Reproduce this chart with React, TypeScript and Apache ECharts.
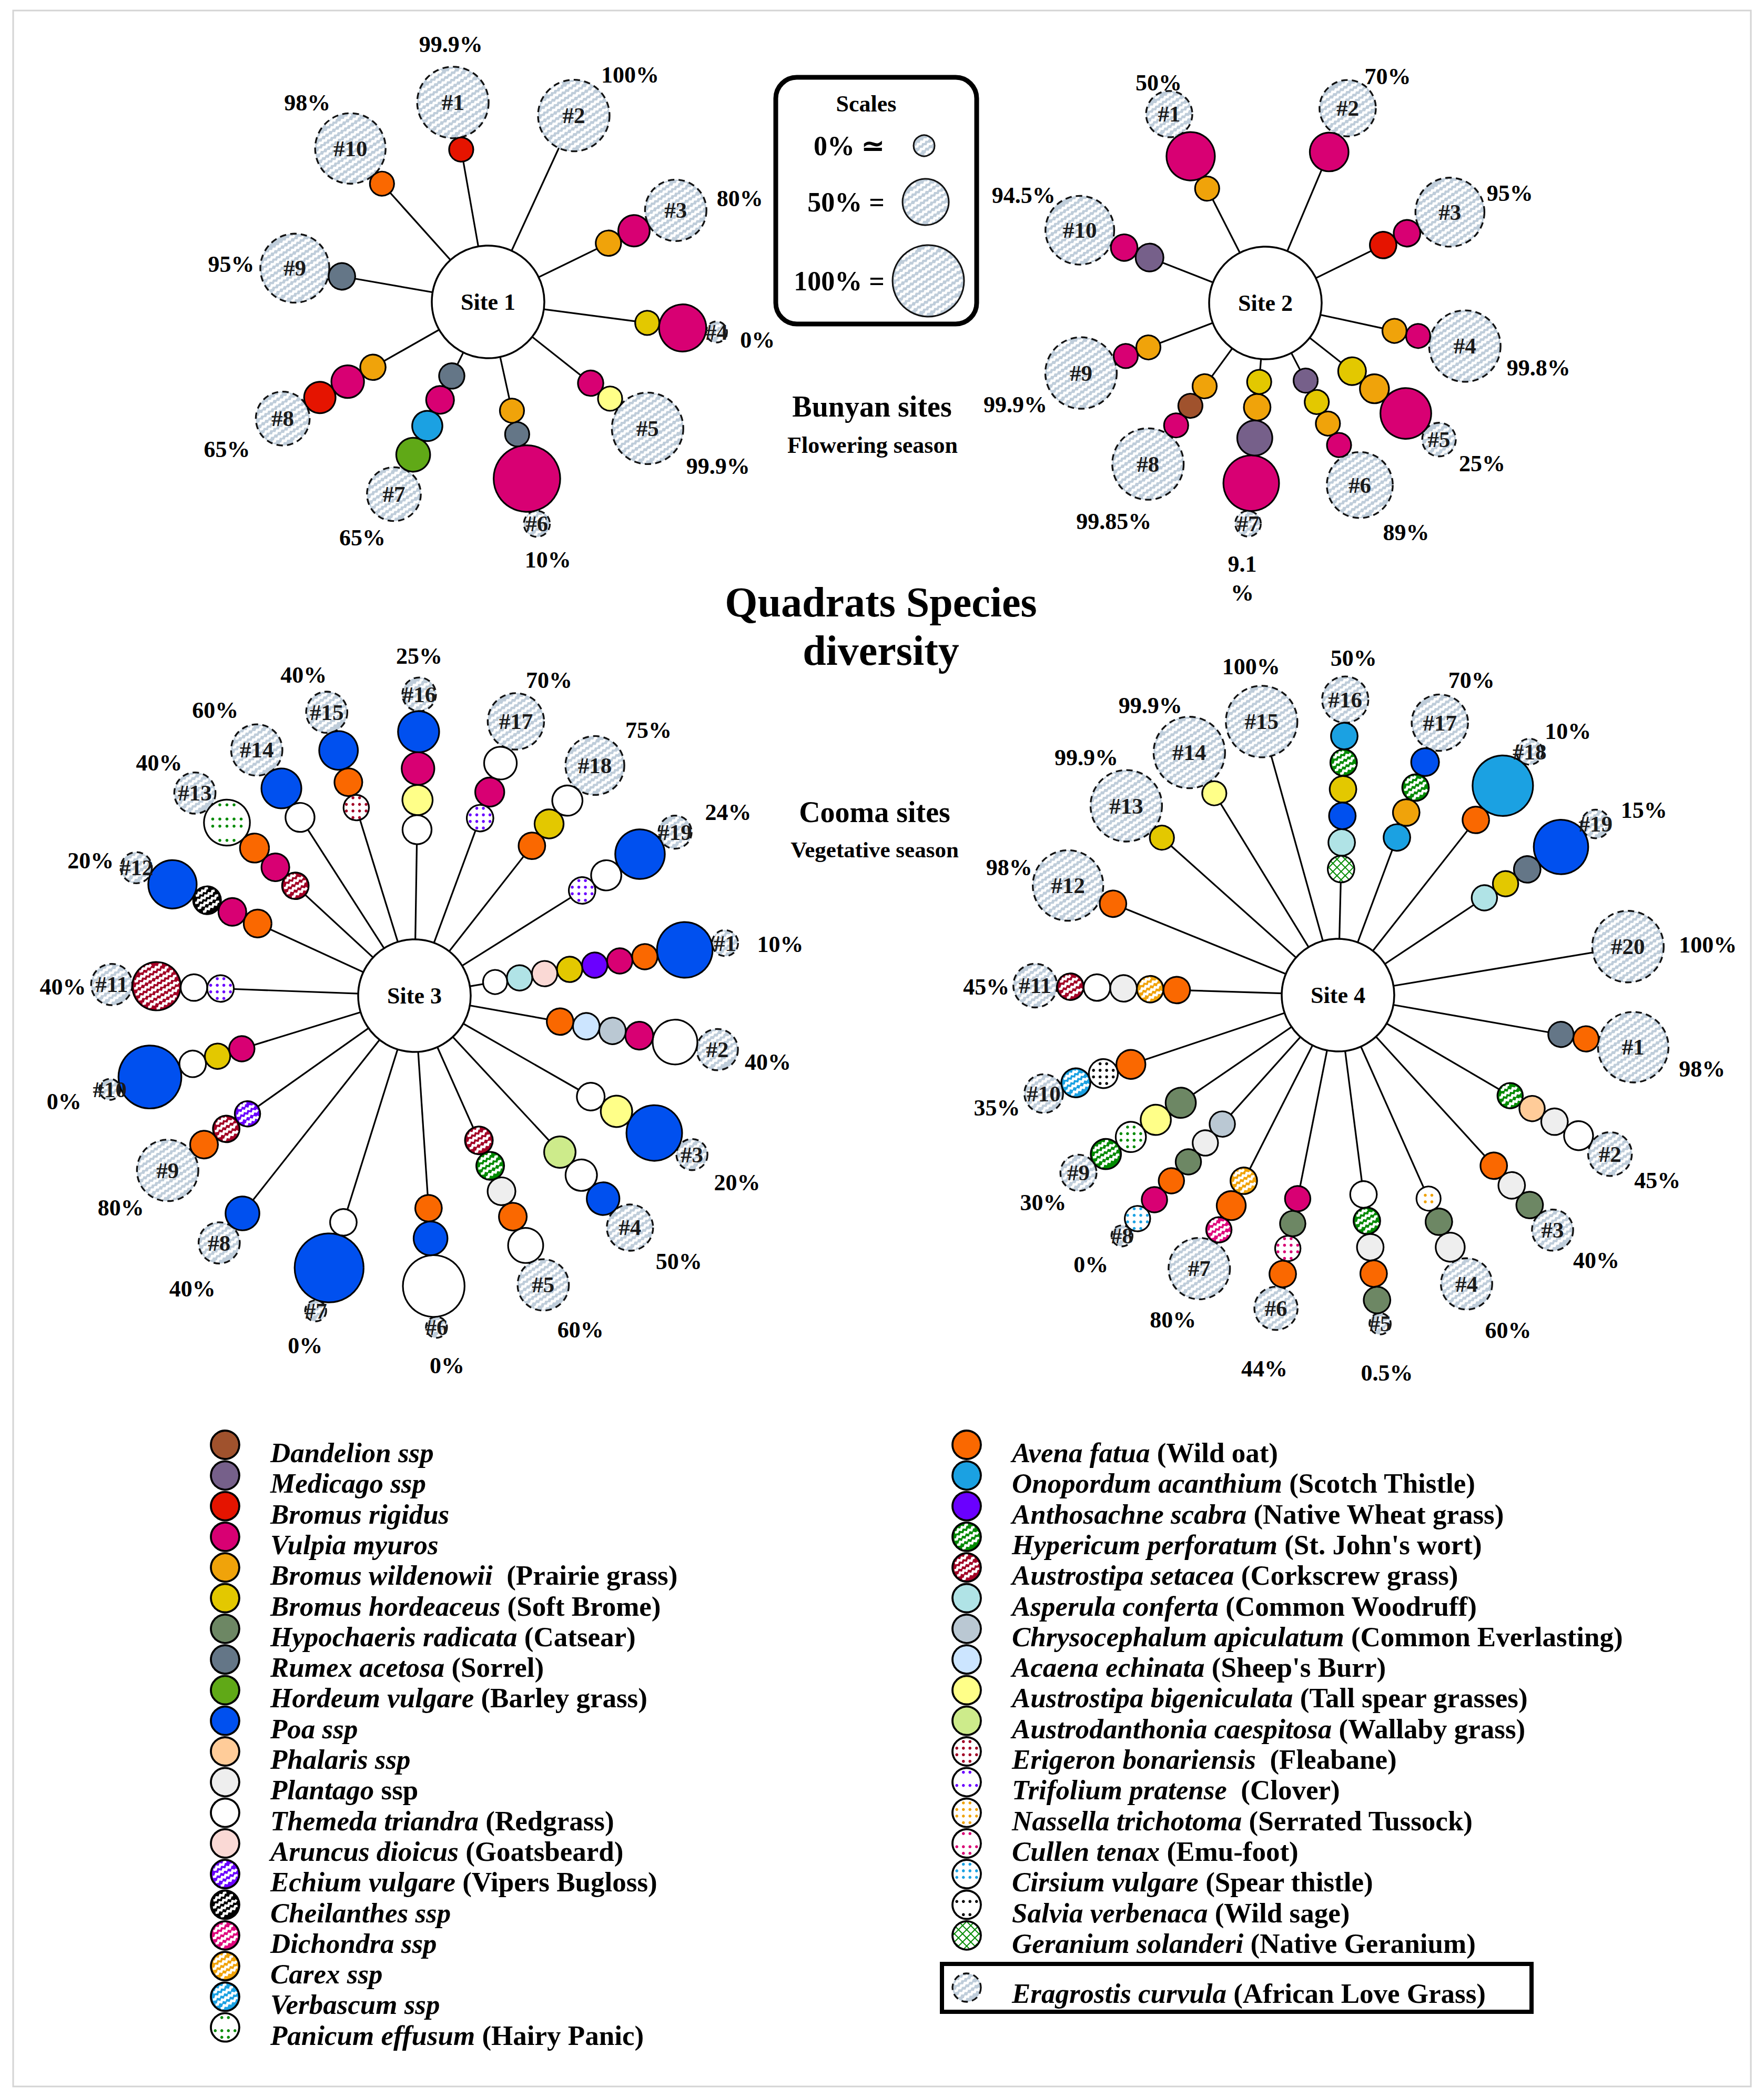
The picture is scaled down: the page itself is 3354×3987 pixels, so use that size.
import React, { useEffect, useRef } from 'react';
import * as echarts from 'echarts';

const W = 3354;
const H = 3987;
const FONT = "'Liberation Serif', 'Times New Roman', Times, serif";

/* ====================== DATA ====================== */
// Species in legend order
const speciesCode = ['DS', 'MS', 'BR', 'VM', 'BW', 'BH', 'HR', 'RA', 'HV', 'POA', 'PH', 'PL', 'TT', 'AD', 'EV', 'CH', 'DI', 'CX', 'VB', 'PE',
  'AF', 'OA', 'AS', 'HP', 'ASE', 'AC', 'CA', 'AE', 'AB', 'ADC', 'EB', 'TP', 'NT', 'CT', 'CV', 'SV', 'GS'];
const speciesLatin = ['Dandelion ssp', 'Medicago ssp', 'Bromus rigidus', 'Vulpia myuros', 'Bromus wildenowii', 'Bromus hordeaceus',
  'Hypochaeris radicata', 'Rumex acetosa', 'Hordeum vulgare', 'Poa ssp', 'Phalaris ssp', 'Plantago', 'Themeda triandra',
  'Aruncus dioicus', 'Echium vulgare', 'Cheilanthes ssp', 'Dichondra ssp', 'Carex ssp', 'Verbascum ssp', 'Panicum effusum',
  'Avena fatua', 'Onopordum acanthium', 'Anthosachne scabra', 'Hypericum perforatum', 'Austrostipa setacea', 'Asperula conferta',
  'Chrysocephalum apiculatum', 'Acaena echinata', 'Austrostipa bigeniculata', 'Austrodanthonia caespitosa', 'Erigeron bonariensis',
  'Trifolium pratense', 'Nassella trichotoma', 'Cullen tenax', 'Cirsium vulgare', 'Salvia verbenaca', 'Geranium solanderi'];
const speciesCommon = ['', '', '', '', ' (Prairie grass)', '(Soft Brome)', '(Catsear)', '(Sorrel)', '(Barley grass)', '', '', 'ssp',
  '(Redgrass)', '(Goatsbeard)', '(Vipers Bugloss)', '', '', '', '', '(Hairy Panic)',
  '(Wild oat)', '(Scotch Thistle)', '(Native Wheat grass)', "(St. John's wort)", '(Corkscrew grass)', '(Common Woodruff)',
  '(Common Everlasting)', "(Sheep's Burr)", '(Tall spear grasses)', '(Wallaby grass)', ' (Fleabane)', ' (Clover)',
  '(Serrated Tussock)', '(Emu-foot)', '(Spear thistle)', '(Wild sage)', '(Native Geranium)'];
const eragrostisLatin = 'Eragrostis curvula';
const eragrostisCommon = '(African Love Grass)';

const siteNames = ['Site 1', 'Site 2', 'Site 3', 'Site 4'];

// Eragrostis curvula cover (%) per quadrat
const site1Cover = [99.9, 100, 80, 0, 99.9, 10, 65, 65, 95, 98];
const site2Cover = [50, 70, 95, 99.8, 25, 89, 9.1, 99.85, 99.9, 94.5];
const site3Cover = [10, 40, 20, 50, 60, 0, 0, 40, 80, 0, 40, 20, 40, 60, 40, 25, 70, 75, 24];
const site4Cover = [98, 45, 40, 60, 0.5, 44, 80, 0, 30, 35, 45, 98, 99.9, 99.9, 100, 50, 70, 10, 15, 100];

// other species per quadrat (inner -> outer), [species, relative abundance]
type Occ = [string, number];
const site1Species: Occ[][] = [
  [['BR', 1]],
  [],
  [['BW', 1.05], ['VM', 1.3]],
  [['BH', 1], ['VM', 1.95]],
  [['VM', 1.05], ['AB', 1]],
  [['BW', 1], ['RA', 1], ['VM', 2.75]],
  [['RA', 1.05], ['VM', 1.15], ['OA', 1.25], ['HV', 1.4]],
  [['BW', 1.05], ['VM', 1.35], ['BR', 1.3]],
  [['RA', 1.1]],
  [['AF', 1]],
];
const site2Species: Occ[][] = [
  [['BW', 1], ['VM', 2]],
  [['VM', 1.6]],
  [['BR', 1.1], ['VM', 1.1]],
  [['BW', 1], ['VM', 1]],
  [['BH', 1.15], ['BW', 1.2], ['VM', 2.1]],
  [['MS', 1], ['BH', 1], ['BW', 1], ['VM', 1]],
  [['BH', 1], ['BW', 1.1], ['MS', 1.45], ['VM', 2.3]],
  [['BW', 1], ['DS', 1], ['VM', 1]],
  [['BW', 1], ['VM', 1]],
  [['MS', 1.15], ['VM', 1.1]],
];
const site3Species: Occ[][] = [
  [['TT', 1], ['AC', 1.05], ['AD', 1.05], ['BH', 1.05], ['AS', 1.05], ['VM', 1.05], ['AF', 1.05], ['POA', 2.3]],
  [['AF', 1.1], ['AE', 1.1], ['CA', 1.1], ['VM', 1.15], ['TT', 1.85]],
  [['TT', 1.15], ['AB', 1.3], ['POA', 2.3]],
  [['ADC', 1.3], ['TT', 1.3], ['POA', 1.35]],
  [['ASE', 1.15], ['HP', 1.15], ['PL', 1.15], ['AF', 1.15], ['TT', 1.45]],
  [['AF', 1.1], ['POA', 1.4], ['TT', 2.55]],
  [['TT', 1.1], ['POA', 2.85]],
  [['POA', 1.4]],
  [['EV', 1.05], ['ASE', 1.1], ['AF', 1.15]],
  [['VM', 1.05], ['BH', 1.05], ['TT', 1.1], ['POA', 2.6]],
  [['TP', 1.1], ['TT', 1.1], ['ASE', 2]],
  [['AF', 1.15], ['VM', 1.15], ['CH', 1.15], ['POA', 2]],
  [['ASE', 1.1], ['VM', 1.15], ['AF', 1.2], ['PE', 1.9]],
  [['TT', 1.2], ['POA', 1.65]],
  [['EB', 1.05], ['AF', 1.15], ['POA', 1.6]],
  [['TT', 1.2], ['AB', 1.25], ['VM', 1.35], ['POA', 1.7]],
  [['TP', 1.1], ['VM', 1.2], ['TT', 1.35]],
  [['AF', 1.1], ['BH', 1.2], ['TT', 1.25]],
  [['TP', 1.1], ['TT', 1.25], ['POA', 2.05]],
];
const site4Species: Occ[][] = [
  [['RA', 1.05], ['AF', 1.05]],
  [['HP', 1.05], ['PH', 1.05], ['PL', 1.1], ['PE', 1.2]],
  [['AF', 1.1], ['PL', 1.1], ['HR', 1.1]],
  [['NT', 1], ['HR', 1.1], ['PL', 1.2]],
  [['TT', 1.1], ['HP', 1.1], ['PL', 1.1], ['AF', 1.1], ['HR', 1.1]],
  [['VM', 1.05], ['HR', 1.05], ['CT', 1.05], ['AF', 1.1]],
  [['CX', 1.1], ['AF', 1.2], ['DI', 1.05]],
  [['CA', 1.05], ['PL', 1.05], ['HR', 1.05], ['AF', 1.05], ['VM', 1.05], ['CV', 1.05]],
  [['HR', 1.25], ['AB', 1.25], ['PE', 1.25], ['HP', 1.25]],
  [['AF', 1.2], ['SV', 1.2], ['VB', 1.2]],
  [['AF', 1.1], ['CX', 1.1], ['PL', 1.1], ['TT', 1.1], ['ASE', 1.1]],
  [['AF', 1.1]],
  [['BH', 1]],
  [['AB', 1]],
  [],
  [['GS', 1.1], ['AC', 1.1], ['POA', 1.1], ['BH', 1.1], ['HP', 1.1], ['OA', 1.1]],
  [['OA', 1.1], ['BW', 1.1], ['HP', 1.1], ['POA', 1.15]],
  [['AF', 1.1], ['OA', 2.5]],
  [['AC', 1.05], ['BH', 1.05], ['RA', 1.1], ['POA', 2.25]],
  [],
];

const scaleCover = [0, 50, 100];
const scaleLabels = ['0% \u2243', '50% =', '100% ='];

/* ====================== STYLES ====================== */
const speciesColor: Record<string, string> = {
  DS: '#A0522D', MS: '#76608A', BR: '#E51400', VM: '#D80073', BW: '#F0A30A', BH: '#E3C800', HR: '#6D8764', RA: '#647687',
  HV: '#60A917', POA: '#0050EF', PH: '#FFCC99', PL: '#EEEEEE', TT: '#FFFFFF', AD: '#FAD9D5', EV: '#6A00FF', CH: '#000000',
  DI: '#E0087D', CX: '#F0A30A', VB: '#1BA1E2', PE: '#008A00', AF: '#FA6800', OA: '#1BA1E2', AS: '#6A00FF', HP: '#008A00',
  ASE: '#A20025', AC: '#B0E3E6', CA: '#BAC8D3', AE: '#CCE5FF', AB: '#FFFF88', ADC: '#CDEB8B', EB: '#A20025', TP: '#6A00FF',
  NT: '#F0A30A', CT: '#D80073', CV: '#1BA1E2', SV: '#000000', GS: '#008A00',
};
const speciesFill: Record<string, string> = {
  EV: 'hatch', CH: 'hatch', DI: 'hatch', CX: 'hatch', VB: 'hatch', HP: 'hatch', ASE: 'hatch',
  PE: 'dots', EB: 'dots', TP: 'dots', NT: 'dots', CT: 'dots', CV: 'dots', SV: 'dots',
  GS: 'cross',
};
const ERA_BASE = '#BFCDDA';

/* ====================== LAYOUT ====================== */
const siteCenter = [[928, 574], [2406, 576], [788, 1893], [2544, 1892]];
const SITE_R = 107;
const BASE_R = 23;
const quadRadius = (p: number) => 20 + 0.48 * p;
// [spoke angle deg, distance of quadrat, label dx, label dy, wrap]
const site1Layout = [
  [-100.0, 385, -4, -110], [-65.3, 390, 107, -77], [-26.0, 397, 122, -22], [7.5, 438, 78, 15], [38.4, 387, 134, 72],
  [77.6, 432, 21, 69], [116.1, 407, -60, 83], [150.4, 449, -106, 59], [189.9, 373, -121, -7], [228.1, 392, -82, -87],
];
const site2Layout = [
  [243.0, 403, -20, -59], [292.9, 402, 76, -60], [-26.2, 391, 114, -36], [12.2, 388, 140, 42], [38.2, 420, 82, 46],
  [62.6, 390, 88, 90], [94.5, 421, -11, 104, 1], [126.1, 379, -65, 109], [159.2, 375, -125, 60], [201.4, 379, -107, -66],
];
const site3Layout = [
  [-9.6, 599, 105, 2], [10.1, 585, 96, 24], [29.8, 608, 86, 53], [47.1, 602, 93, 65], [66.0, 602, 71, 86],
  [86.2, 632, 20, 73], [107.4, 628, -20, 66], [128.3, 599, -51, 87], [144.7, 575, -89, 71], [162.9, 606, -87, 23],
  [182.1, 576, -93, 5], [204.7, 582, -87, -13], [222.7, 568, -68, -57], [237.3, 555, -79, -75], [252.8, 564, -44, -71],
  [270.9, 573, 0, -73], [290.3, 556, 63, -78], [308.1, 556, 102, -67], [327.9, 585, 101, -38],
];
const site4Layout = [
  [10.0, 570, 131, 42], [30.3, 599, 90, 50], [47.6, 605, 83, 58], [66.0, 601, 79, 88], [82.7, 630, 13, 94],
  [101.2, 607, -22, 115], [116.9, 583, -50, 98], [131.9, 615, -59, 55], [145.6, 598, -67, 57], [161.5, 590, -89, 27],
  [181.8, 576, -93, 3], [202.1, 554, -112, -34], [221.8, 540, -76, -92], [238.5, 541, -74, -89], [254.4, 540, -20, -104],
  [271.4, 562, 16, -79], [290.5, 553, 60, -81], [308.2, 589, 73, -39], [326.4, 588, 92, -26], [350.5, 559, 152, -3],
];

/* ====================== DRAW HELPERS ====================== */
function stripes(cx: number, cy: number, r: number, angDeg: number, spacing: number, color: string, width: number, amp: number) {
  const out: any[] = [];
  const t = (angDeg * Math.PI) / 180;
  const ux = Math.cos(t), uy = Math.sin(t);
  const nx = -uy, ny = ux;
  const n = Math.ceil(r / spacing) + 1;
  const rr = r - 1.5 - amp;
  for (let k = -n; k <= n; k++) {
    const d = k * spacing + spacing * 0.3;
    const h2 = rr * rr - d * d;
    if (h2 <= 9) continue;
    const h = Math.sqrt(h2);
    const pts: number[][] = [];
    if (amp > 0) {
      const step = 4;
      const m = Math.max(2, Math.round((2 * h) / step));
      for (let i = 0; i <= m; i++) {
        const s = -h + (2 * h * i) / m;
        const o = i === 0 || i === m ? 0 : (i % 2 ? amp : -amp);
        pts.push([cx + s * ux + (d + o) * nx, cy + s * uy + (d + o) * ny]);
      }
    } else {
      pts.push([cx - h * ux + d * nx, cy - h * uy + d * ny], [cx + h * ux + d * nx, cy + h * uy + d * ny]);
    }
    out.push({ type: 'polyline', shape: { points: pts }, style: { stroke: color, lineWidth: width, fill: 'none' }, silent: true });
  }
  return out;
}

function dots(cx: number, cy: number, r: number, spacing: number, dotR: number, color: string) {
  const out: any[] = [];
  const n = Math.ceil(r / spacing) + 1;
  const ox = r > 32 ? 0 : 0.5;
  for (let i = -n; i <= n; i++) {
    for (let j = -n; j <= n; j++) {
      const x = (i + ox) * spacing, y = (j + 0.5) * spacing;
      if (Math.hypot(x, y) + dotR <= r - 1.2) {
        out.push({ type: 'circle', shape: { cx: cx + x, cy: cy + y, r: dotR }, style: { fill: color }, silent: true });
      }
    }
  }
  return out;
}

function drawMark(x: number, y: number, r: number, kind: string, code?: string) {
  const els: any[] = [];
  if (kind === 'site') {
    els.push({ type: 'circle', shape: { cx: x, cy: y, r }, style: { fill: '#ffffff', stroke: '#000', lineWidth: 3.5 } });
    return els;
  }
  if (kind === 'quad' || kind === 'scale' || kind === 'legendQuad') {
    els.push({ type: 'circle', shape: { cx: x, cy: y, r }, style: { fill: ERA_BASE } });
    els.push(...stripes(x, y, r, -35, 11, '#ffffff', 4.5, 1.5));
    els.push({
      type: 'circle', shape: { cx: x, cy: y, r },
      style: { fill: 'none', stroke: '#111', lineWidth: kind === 'scale' ? 3 : 3.3, lineDash: kind === 'scale' ? null : [12, 8] },
    });
    return els;
  }
  const col = speciesColor[code as string];
  const pat = speciesFill[code as string] || 'solid';
  const base = pat === 'dots' || pat === 'cross' ? '#ffffff' : col;
  els.push({ type: 'circle', shape: { cx: x, cy: y, r }, style: { fill: base } });
  if (pat === 'hatch') els.push(...stripes(x, y, r, -32, 11, '#ffffff', 4.5, 1.8));
  if (pat === 'dots') els.push(...dots(x, y, r, r > 32 ? 13.5 : 12.5, 2.8, col));
  if (pat === 'cross') {
    els.push(...stripes(x, y, r, 45, 11, col, 2, 0));
    els.push(...stripes(x, y, r, -45, 11, col, 2, 0));
  }
  els.push({ type: 'circle', shape: { cx: x, cy: y, r }, style: { fill: 'none', stroke: '#000', lineWidth: kind === 'legendSp' ? 3.8 : 3.2 } });
  return els;
}

/* ====================== BUILD ====================== */
function buildOption() {
  const spokeData: number[][] = [];
  const circleData: number[][] = [];
  const circleMeta: { kind: string; code?: string }[] = [];
  const textData: number[][] = [];
  const textMeta: any[] = [];

  const addCircle = (x: number, y: number, r: number, kind: string, code?: string) => {
    circleData.push([x, y, r]);
    circleMeta.push({ kind, code });
  };
  const addText = (x: number, y: number, text: string, size: number, opts: any = {}) => {
    textData.push([x, y]);
    textMeta.push({ text, size, ...opts });
  };

  const sites = [
    { cover: site1Cover, species: site1Species, layout: site1Layout },
    { cover: site2Cover, species: site2Species, layout: site2Layout },
    { cover: site3Cover, species: site3Species, layout: site3Layout },
    { cover: site4Cover, species: site4Species, layout: site4Layout },
  ];

  const quads: any[] = [];
  const sps: any[] = [];
  sites.forEach((s, si) => {
    const [cx, cy] = siteCenter[si];
    addCircle(cx, cy, SITE_R, 'site');
    addText(cx, cy, siteNames[si], 44, { align: 'center' });
    s.cover.forEach((p, qi) => {
      const lay = s.layout[qi];
      const [ang, D, ldx, ldy] = lay;
      const wrap = lay[4] === 1;
      const t = (ang * Math.PI) / 180;
      const ux = Math.cos(t), uy = Math.sin(t);
      const rq = quadRadius(p);
      const qx = cx + D * ux, qy = cy + D * uy;
      const list = s.species[qi];
      let pos = D - rq;
      let inner = D;
      for (let k = list.length - 1; k >= 0; k--) {
        const [code, a] = list[k];
        const r = BASE_R * a;
        const c = pos - r;
        sps.push([cx + c * ux, cy + c * uy, r, code]);
        inner = c;
        pos = c - r;
      }
      spokeData.push([cx, cy, cx + inner * ux, cy + inner * uy]);
      quads.push([qx, qy, rq]);
      addText(qx, qy, '#' + (qi + 1), 43, { align: 'center', color: '#1a1a1a' });
      const lbl = wrap ? `${p}\n%` : `${p}%`;
      addText(qx + ldx, qy + ldy, lbl, 44, { align: 'center', lineHeight: 55 });
    });
  });
  quads.forEach((q) => addCircle(q[0], q[1], q[2], 'quad'));
  sps.forEach((q) => addCircle(q[0], q[1], q[2], 'sp', q[3]));

  // scales
  const scaleY = [277, 384, 534];
  const scaleX = [1757, 1760, 1765];
  scaleCover.forEach((p, i) => {
    addCircle(scaleX[i], scaleY[i], quadRadius(p), 'scale');
    addText(1682, scaleY[i], scaleLabels[i], 52, { align: 'right' });
  });

  // legend
  const rowStep = 58.3;
  const rich = {
    i: { fontFamily: FONT, fontSize: 53, fontWeight: 'bold', fontStyle: 'italic', fill: '#000' },
    b: { fontFamily: FONT, fontSize: 53, fontWeight: 'bold', fill: '#000' },
  };
  speciesCode.forEach((code, i) => {
    const left = i < 20;
    const row = left ? i : i - 20;
    const cx = left ? 428 : 1838;
    const cy = 2747 + row * rowStep;
    addCircle(cx, cy, 27, 'legendSp', code);
    const common = speciesCommon[i];
    const txt = `{i|${speciesLatin[i]}}` + (common ? `{b| ${common}}` : '');
    addText(cx + 86, cy + 15, txt, 53, { align: 'left', rich });
  });
  addCircle(1838, 3779, 27, 'legendQuad');
  addText(1924, 3790, `{i|${eragrostisLatin}}{b| ${eragrostisCommon}}`, 53, { align: 'left', rich });

  const txt = (text: string, x: number, y: number, size: number, align = 'center') => ({
    type: 'text', silent: true,
    style: {
      text, x, y, fill: '#000', fontFamily: FONT, fontSize: size, fontWeight: 'bold',
      align, verticalAlign: 'middle', textAlign: align, textVerticalAlign: 'middle',
    },
  });

  return {
    animation: false,
    backgroundColor: '#ffffff',
    grid: { left: 0, right: 0, top: 0, bottom: 0, containLabel: false },
    xAxis: { type: 'value', min: 0, max: W, show: false },
    yAxis: { type: 'value', min: 0, max: H, inverse: true, show: false },
    graphic: {
      elements: [
        { type: 'rect', silent: true, shape: { x: 25, y: 20, width: 3304, height: 3947 }, style: { fill: 'none', stroke: '#d4d4d4', lineWidth: 3 } },
        { type: 'rect', silent: true, shape: { x: 1475, y: 147, width: 382, height: 469, r: 40 }, style: { fill: 'none', stroke: '#000', lineWidth: 9 } },
        txt('Scales', 1647, 197, 44),
        txt('Bunyan sites', 1658, 773, 56),
        txt('Flowering season', 1659, 846, 44),
        txt('Quadrats Species', 1675, 1145, 80),
        txt('diversity', 1675, 1237, 80),
        txt('Cooma sites', 1663, 1544, 56),
        txt('Vegetative season', 1663, 1615, 43),
        { type: 'rect', silent: true, shape: { x: 1791, y: 3734, width: 1121, height: 91 }, style: { fill: 'none', stroke: '#000', lineWidth: 8 } },
      ],
    },
    series: [
      {
        type: 'custom', name: 'spokes', coordinateSystem: 'cartesian2d', silent: true, z: 1, clip: false,
        data: spokeData, encode: { x: [0, 2], y: [1, 3] },
        renderItem: (_p: any, api: any) => {
          const a = api.coord([api.value(0), api.value(1)]);
          const b = api.coord([api.value(2), api.value(3)]);
          return { type: 'line', shape: { x1: a[0], y1: a[1], x2: b[0], y2: b[1] }, style: { stroke: '#000', lineWidth: 3.2 } };
        },
      },
      {
        type: 'custom', name: 'circles', coordinateSystem: 'cartesian2d', silent: true, z: 2, clip: false,
        data: circleData, encode: { x: 0, y: 1 },
        renderItem: (params: any, api: any) => {
          const m = circleMeta[params.dataIndex];
          const c = api.coord([api.value(0), api.value(1)]);
          const r = api.size([api.value(2), 0])[0];
          return { type: 'group', children: drawMark(c[0], c[1], r, m.kind, m.code) };
        },
      },
      {
        type: 'custom', name: 'texts', coordinateSystem: 'cartesian2d', silent: true, z: 3, clip: false,
        data: textData, encode: { x: 0, y: 1 },
        renderItem: (params: any, api: any) => {
          const t = textMeta[params.dataIndex];
          const c = api.coord([api.value(0), api.value(1)]);
          const style: any = {
            text: t.text, x: c[0], y: c[1], fill: t.color || '#000', fontFamily: FONT, fontSize: t.size,
            fontWeight: 'bold', align: t.align, verticalAlign: 'middle', textAlign: t.align, textVerticalAlign: 'middle',
          };
          if (t.lineHeight) style.lineHeight = t.lineHeight;
          if (t.rich) style.rich = t.rich;
          return { type: 'text', style };
        },
      },
    ],
  };
}

export default function App() {
  const ref = useRef<HTMLDivElement>(null);
  useEffect(() => {
    document.body.style.margin = '0';
    const el = ref.current as HTMLDivElement;
    const chart = echarts.init(el, undefined, { renderer: 'svg', width: W, height: H });
    chart.setOption(buildOption() as any);
    return () => chart.dispose();
  }, []);
  return <div ref={ref} style={{ width: W, height: H, background: '#fff' }} />;
}
